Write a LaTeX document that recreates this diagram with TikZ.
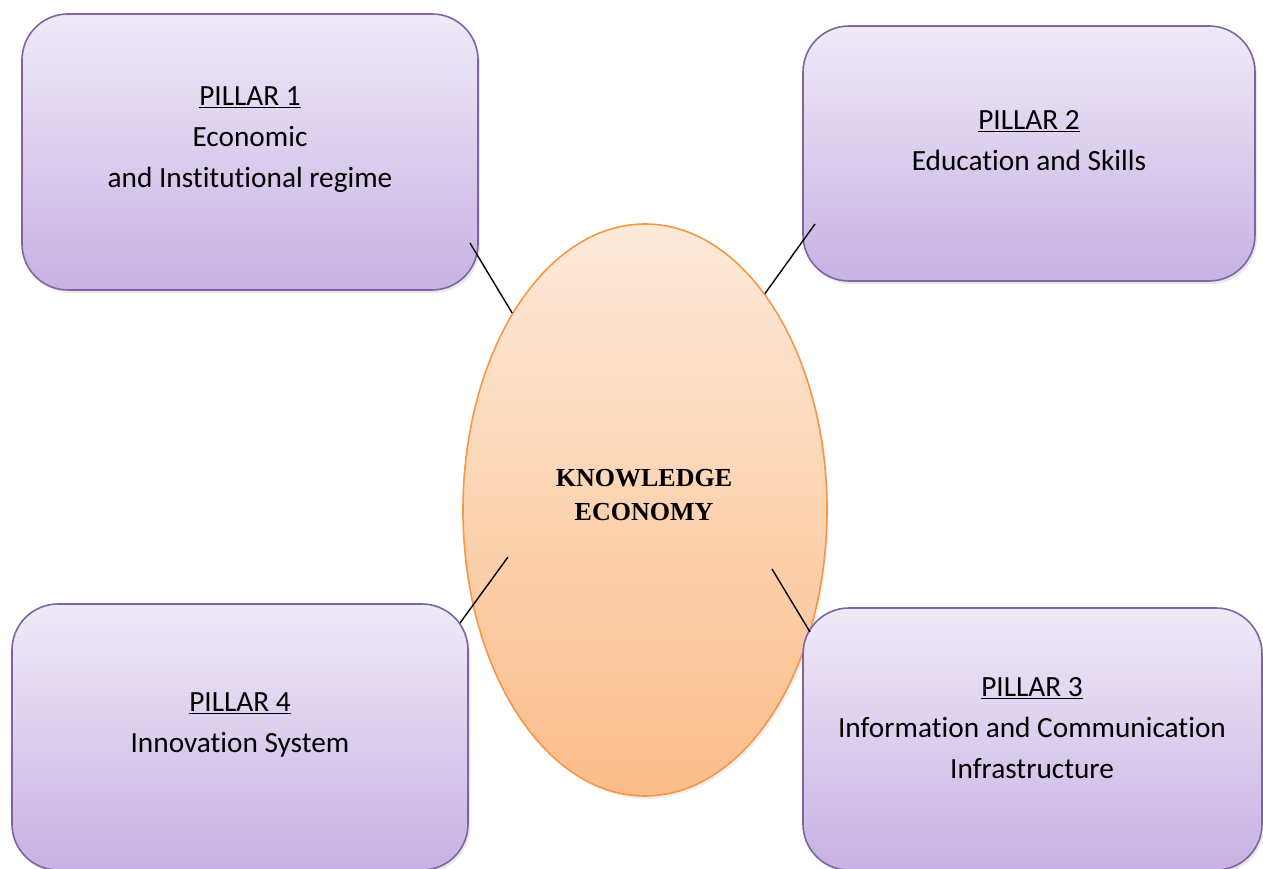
\documentclass[tikz,border=0pt]{standalone}
\usepackage{fontspec}
\setmainfont[Ligatures=NoCommon]{Carlito}
\newfontfamily\timesfont{Liberation Serif}
\usetikzlibrary{shapes.geometric,shadows}

\definecolor{pillarline}{RGB}{128,100,162}
\definecolor{pillartop}{RGB}{239,234,248}
\definecolor{pillarbot}{RGB}{199,178,228}
\definecolor{ecoline}{RGB}{247,150,70}
\definecolor{ecotop}{RGB}{253,234,218}
\definecolor{ecobot}{RGB}{251,189,138}

\tikzset{
  pillar/.style={draw=pillarline, line width=1.6pt, rounded corners=46pt,
    top color=pillartop, bottom color=pillarbot,
    drop shadow={shadow xshift=2pt, shadow yshift=-3pt, opacity=0.18}},
  pillartext/.style={align=center, font=\fontsize{29.3}{41}\selectfont},
  link/.style={line width=1.4pt},
}

\begin{document}
\begin{tikzpicture}[x=1pt,y=-1pt]
\useasboundingbox (0,0) rectangle (1263,869);

% the centre
\node[ellipse, draw=ecoline, line width=1.6pt, inner sep=0pt,
  minimum width=364pt, minimum height=572pt,
  top color=ecotop, bottom color=ecobot,
  drop shadow={shadow xshift=2pt, shadow yshift=-3pt, opacity=0.12}] (ke) at (645,510) {};
\node[align=center, font=\timesfont\bfseries\fontsize{26}{34}\selectfont] (tk) at (644,495) {KNOWLEDGE\\ECONOMY};

% the four pillars
\node[pillar, minimum width=456pt, minimum height=276pt] (p1) at (250,152) {};
\node[pillar, minimum width=452pt, minimum height=255pt] (p2) at (1029,153.5) {};
\node[pillar, minimum width=459pt, minimum height=262pt] (p3) at (1032.5,739) {};
\node[pillar, minimum width=456pt, minimum height=266pt] (p4) at (240,737) {};

\node[pillartext] (t1) at (250,140) {\underline{PILLAR 1}\\Economic\\and Institutional regime};
\node[pillartext] (t2) at (1029,141) {\underline{PILLAR 2}\\Education and Skills};
\node[pillartext] (t3) at (1032,728) {\underline{PILLAR 3}\\Information and Communication\\Infrastructure};
\node[pillartext] (t4) at (240,725) {\underline{PILLAR 4}\\Innovation System};

% links
\coordinate (c1) at (470,243);
\coordinate (c2) at (815,224);
\coordinate (c3) at (460,623);
\coordinate (k3) at (508,557);
\coordinate (c4) at (810,632);
\coordinate (k4) at (772,569);
\draw[link] (c1) -- (ke.124);
\draw[link] (c2) -- (ke.61);
\draw[link] (c3) -- (k3);
\draw[link] (c4) -- (k4);
\end{tikzpicture}
\end{document}
